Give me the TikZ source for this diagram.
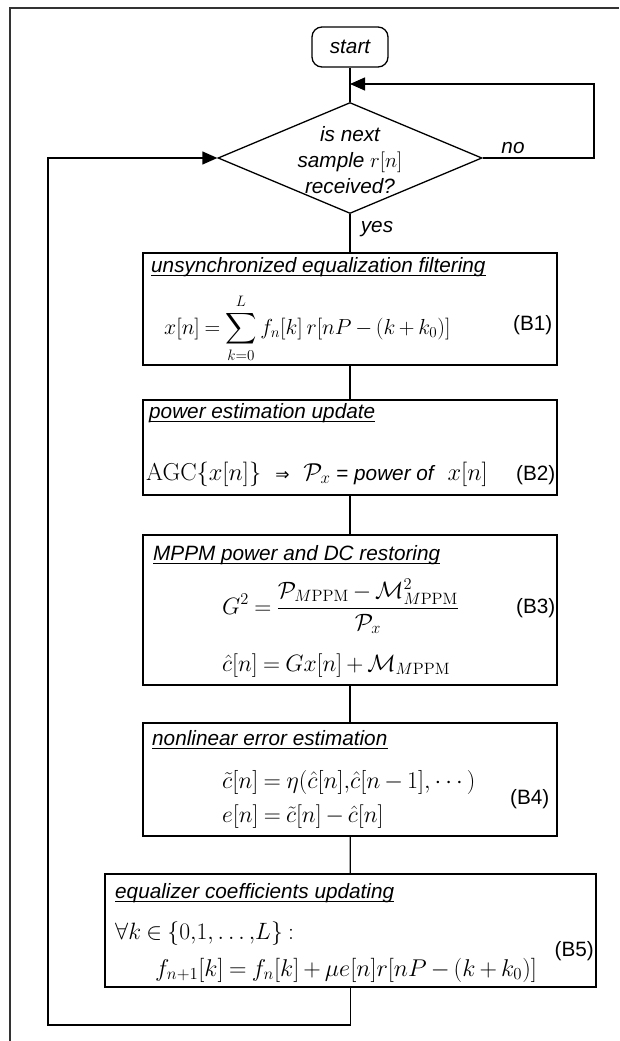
\documentclass[tikz,border=0pt]{standalone}
\usepackage{amsmath}
\usepackage[no-math]{fontspec}
\setmainfont{Liberation Sans}
\newfontfamily\djv{DejaVu Sans}
\usetikzlibrary{shapes.geometric,arrows.meta}
\thickmuskip=4mu plus 2mu\relax
\medmuskip=3mu plus 1mu minus 2mu\relax
\newcommand{\sm}[1]{\scalebox{1.14}{#1}}
\tikzset{
  every node/.style={font=\fontsize{20.74}{26}\selectfont, inner sep=0pt},
  ln/.style={line width=1.3pt},
  box/.style={draw, line width=1.3pt, minimum width=414pt, inner sep=0pt},
  arr/.style={ln, -{Triangle[length=15pt,width=13pt]}},
  ttl/.style={anchor=base west, font=\fontsize{20.74}{26}\selectfont\itshape},
  eqn/.style={anchor=base west},
  tag/.style={anchor=base west},
  ul/.style={line width=1pt},
  frame/.style={line width=2pt, draw=black!80}
}
\begin{document}
\begin{tikzpicture}[x=1pt,y=-1pt]
\useasboundingbox (0,0) rectangle (619,1041);
\draw[frame] (10,1041) -- (10,8) -- (619,8);

% start and decision
\node[draw, ln, rounded corners=10pt, minimum width=76pt, minimum height=40pt, font=\fontsize{20.74}{26}\selectfont\itshape] (start) at (350,47) {start};
\node[draw, ln, diamond, minimum width=264pt, minimum height=111pt, inner sep=0pt] (dia) at (350,158) {};
\node[align=center, font=\fontsize{20.74}{26}\selectfont\itshape] (dtx) at (350,160) {is next\\ sample $r[n]$\\ received?};
\coordinate (join) at (350,84);
\coordinate (rc) at (594,84);
\coordinate (lb) at (48,1025);
\node[font=\fontsize{20.74}{26}\selectfont\itshape] (no) at (513,148) {no};
\node[font=\fontsize{20.74}{26}\selectfont\itshape] (yes) at (377,229) {yes};

% boxes
\node[box, minimum height=112pt] (b1) at (350,309) {};
\node[box, minimum height=95pt] (b2) at (350,447.5) {};
\node[box, minimum height=150pt] (b3) at (350,610) {};
\node[box, minimum height=113pt] (b4) at (350,779.5) {};
\node[box, minimum width=491pt, minimum height=113pt] (b5) at (350.5,930.5) {};

% B1
\node[ttl] (t1) at (151,272) {unsynchronized equalization filtering};
\draw[ul] ([yshift=-3pt]t1.base west) -- ([yshift=-3pt]t1.base east);
\node[eqn] (e1) at (164,334) {\scalebox{1.05}{$\displaystyle x[n] = \sum_{k=0}^{L} f_n[k]\, r[nP-(k+k_0)]$}};
\node[tag] (g1) at (513,330) {(B1)};

% B2
\node[ttl] (t2) at (149,418) {power estimation update};
\draw[ul] ([yshift=-3pt]t2.base west) -- ([yshift=-3pt]t2.base east);
\node[eqn] (e2) at (146,480) {\scalebox{1.18}{$\mathrm{AGC}\{x[n]\}$}\hspace{14pt}{\djv\fontsize{17}{20}\selectfont ⇒}\hspace{14pt}\scalebox{1.18}{$\mathcal{P}_x$} = \textit{power of}\hspace{12pt}\scalebox{1.18}{$x[n]$}};
\node[tag] (g2) at (516,480) {(B2)};

% B3
\node[ttl] (t3) at (153,560) {MPPM power and DC restoring};
\draw[ul] ([yshift=-3pt]t3.base west) -- ([yshift=-3pt]t3.base east);
\node[eqn] (e3a) at (222,614) {\sm{$\displaystyle G^2 = \frac{\mathcal{P}_{M\mathrm{PPM}} - \mathcal{M}^2_{M\mathrm{PPM}}}{\mathcal{P}_x}$}};
\node[tag] (g3) at (516,613) {(B3)};
\node[eqn] (e3b) at (222,671) {\sm{$\hat{c}[n] = G x[n] + \mathcal{M}_{M\mathrm{PPM}}$}};

% B4
\node[ttl] (t4) at (152,745) {nonlinear error estimation};
\draw[ul] ([yshift=-3pt]t4.base west) -- ([yshift=-3pt]t4.base east);
\node[eqn] (e4a) at (222,788) {\scalebox{1.16}{$\tilde{c}[n] = \eta(\hat{c}[n]{,}\hat{c}[n-1]{,}\cdots)$}};
\node[eqn] (e4b) at (222,822) {\sm{$e[n] = \tilde{c}[n] - \hat{c}[n]$}};
\node[tag] (g4) at (510,804) {(B4)};

% B5
\node[ttl] (t5) at (115,898) {equalizer coefficients updating};
\draw[ul] ([yshift=-3pt]t5.base west) -- ([yshift=-3pt]t5.base east);
\node[eqn] (e5a) at (115,939) {\scalebox{1.14}{$\forall k \in \{0{,}1{,}\ldots{,}L\}:$}};
\node[eqn] (e5b) at (155,976) {\scalebox{1.17}{$f_{n+1}[k] = f_n[k] + \mu e[n] r[nP-(k+k_0)]$}};
\node[tag, anchor=base east] (g5) at (594,956) {(B5)};

% connectors
\draw[ln] (start) -- (dia);
\draw[arr] (dia.east) -- (dia.east -| rc) -- (rc) -- (join);
\draw[ln] (dia) -- (b1);
\draw[ln] (b1) -- (b2);
\draw[ln] (b2) -- (b3);
\draw[ln] (b3) -- (b4);
\draw[ln] (b4) -- (b5);
\draw[arr] (b5.south) |- (lb) |- (dia.west);
\end{tikzpicture}
\end{document}
